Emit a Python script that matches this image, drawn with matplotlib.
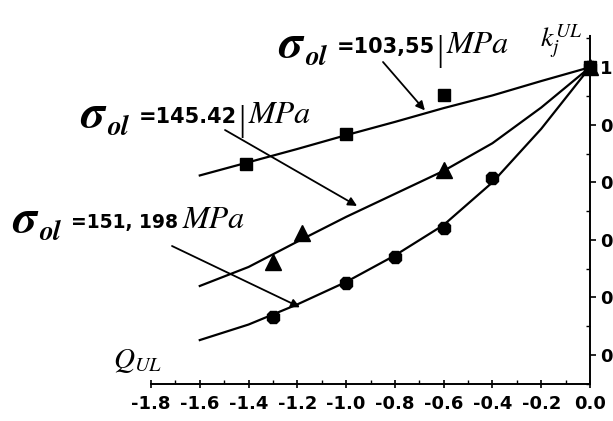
import matplotlib.pyplot as plt
from matplotlib.ticker import FixedLocator, MultipleLocator

plt.rcParams['mathtext.fontset'] = 'stix'

# fitted curves k_j^UL(Q_UL), one per sigma_ol
x_fit = [-1.6, -1.4, -1.2, -1.0, -0.8, -0.6, -0.4, -0.2, 0.0]
fit_103 = [0.812, 0.835, 0.858, 0.882, 0.905, 0.929, 0.951, 0.976, 1.0]
fit_145 = [0.620, 0.653, 0.697, 0.740, 0.780, 0.820, 0.868, 0.930, 1.0]
fit_151 = [0.526, 0.553, 0.588, 0.627, 0.673, 0.726, 0.800, 0.893, 1.0]

# measured points
x_sq = [-1.41, -1.0, -0.6, 0.0]
y_sq = [0.832, 0.884, 0.951, 1.0]
x_tri = [-1.3, -1.18, -0.6, 0.0]
y_tri = [0.662, 0.712, 0.821, 1.0]
x_dot = [-1.3, -1.0, -0.8, -0.6, -0.4, 0.0]
y_dot = [0.566, 0.625, 0.670, 0.720, 0.807, 1.0]

x_ticks = [-1.8, -1.6, -1.4, -1.2, -1.0, -0.8, -0.6, -0.4, -0.2, 0.0]
x_tick_labels = ['-1.8', '-1.6', '-1.4', '-1.2', '-1.0', '-0.8', '-0.6', '-0.4', '-0.2', '0.0']
y_ticks = [1.0, 0.9, 0.8, 0.7, 0.6, 0.5]
y_tick_labels = ['1', '0.9', '0.8', '0.7', '0.6', '0.5']

# arrow tips on the curves
tip_103 = (-0.677, 0.925)
tip_145 = (-0.955, 0.759)
tip_151 = (-1.189, 0.583)

W, H = 613, 421
fig = plt.figure(figsize=(W / 100, H / 100), dpi=100)
ax = fig.add_axes([151 / W, (H - 384) / H, 439 / W, 349 / H])


def px(x, y):
    return (x / W, 1 - y / H)


ax.plot(x_fit, fit_103, color='black', lw=1.6, clip_on=False)
ax.plot(x_fit, fit_145, color='black', lw=1.6, clip_on=False)
ax.plot(x_fit, fit_151, color='black', lw=1.6, clip_on=False)
ax.plot(x_sq, y_sq, 's', color='black', ms=9, clip_on=False, zorder=5)
ax.plot(x_tri, y_tri, '^', color='black', ms=11, clip_on=False, zorder=5)
ax.plot(x_dot, y_dot, '8', color='black', ms=10, clip_on=False, zorder=5)

ax.set_xlim(-1.8, 0.0)
ax.set_ylim(0.4497, 1.056)

for s in ['left', 'top']:
    ax.spines[s].set_visible(False)
for s in ['right', 'bottom']:
    ax.spines[s].set_linewidth(1.4)
    ax.spines[s].set_linestyle((0, (3, 1)))

ax.xaxis.set_major_locator(FixedLocator(x_ticks))
ax.set_xticklabels(x_tick_labels, fontsize=13, fontweight='bold')
ax.xaxis.set_minor_locator(MultipleLocator(0.1))
ax.tick_params(axis='x', which='major', direction='inout', length=6, width=1.2, pad=5)
ax.tick_params(axis='x', which='minor', direction='in', length=3, width=1)

ax.yaxis.tick_right()
ax.yaxis.set_major_locator(FixedLocator(y_ticks))
ax.set_yticklabels(y_tick_labels, fontsize=13, fontweight='bold')
ax.yaxis.set_minor_locator(MultipleLocator(0.05))
ax.tick_params(axis='y', which='major', direction='out', length=4, width=1.2, pad=3)
ax.tick_params(axis='y', which='minor', direction='in', length=3, width=1)

# axis names
fig.text(*px(540, 46), r'$k_j^{UL}$', fontsize=20, ha='left', va='baseline')
fig.text(*px(113, 368), r'$Q_{UL}$', fontsize=21, ha='left', va='baseline')

# sigma_ol labels
labels = [
    (278, 57, '=103,55', True, 15),
    (80, 127, '=145.42', True, 15),
    (12, 232, '=151, 198', False, 13.5),
]
for x0, yb, val, bar, fs in labels:
    fig.text(*px(x0, yb), 'σ', fontsize=34, family='STIXGeneral',
             fontweight='bold', style='italic', ha='left', va='baseline')
    fig.text(*px(x0 + 27, yb + 8), 'ol', fontsize=20, family='STIXGeneral',
             fontweight='bold', style='italic', ha='left', va='baseline')
    t = fig.text(*px(x0 + 59, yb - 4), val, fontsize=fs, fontweight='bold',
                 ha='left', va='baseline')
    fig.canvas.draw()
    xe = t.get_window_extent().x1
    if bar:
        fig.text(xe / W + 1 / W, 1 - (yb + 3) / H, '|', fontsize=26,
                 family='Liberation Serif', ha='left', va='baseline')
        xe += 6
    fig.text(xe / W + 5 / W, 1 - (yb - 4) / H, 'MPa', fontsize=23,
             family='STIXGeneral', style='italic', ha='left', va='baseline')

arrow = dict(arrowstyle='-|>', color='black', lw=1.3, mutation_scale=13,
             shrinkA=0, shrinkB=0)
ax.annotate('', xy=tip_103, xycoords='data', xytext=px(383, 62),
            textcoords='figure fraction', arrowprops=arrow)
ax.annotate('', xy=tip_145, xycoords='data', xytext=px(225, 130),
            textcoords='figure fraction', arrowprops=arrow)
ax.annotate('', xy=tip_151, xycoords='data', xytext=px(172, 246),
            textcoords='figure fraction', arrowprops=arrow)

fig.savefig('out.png', dpi=100)
